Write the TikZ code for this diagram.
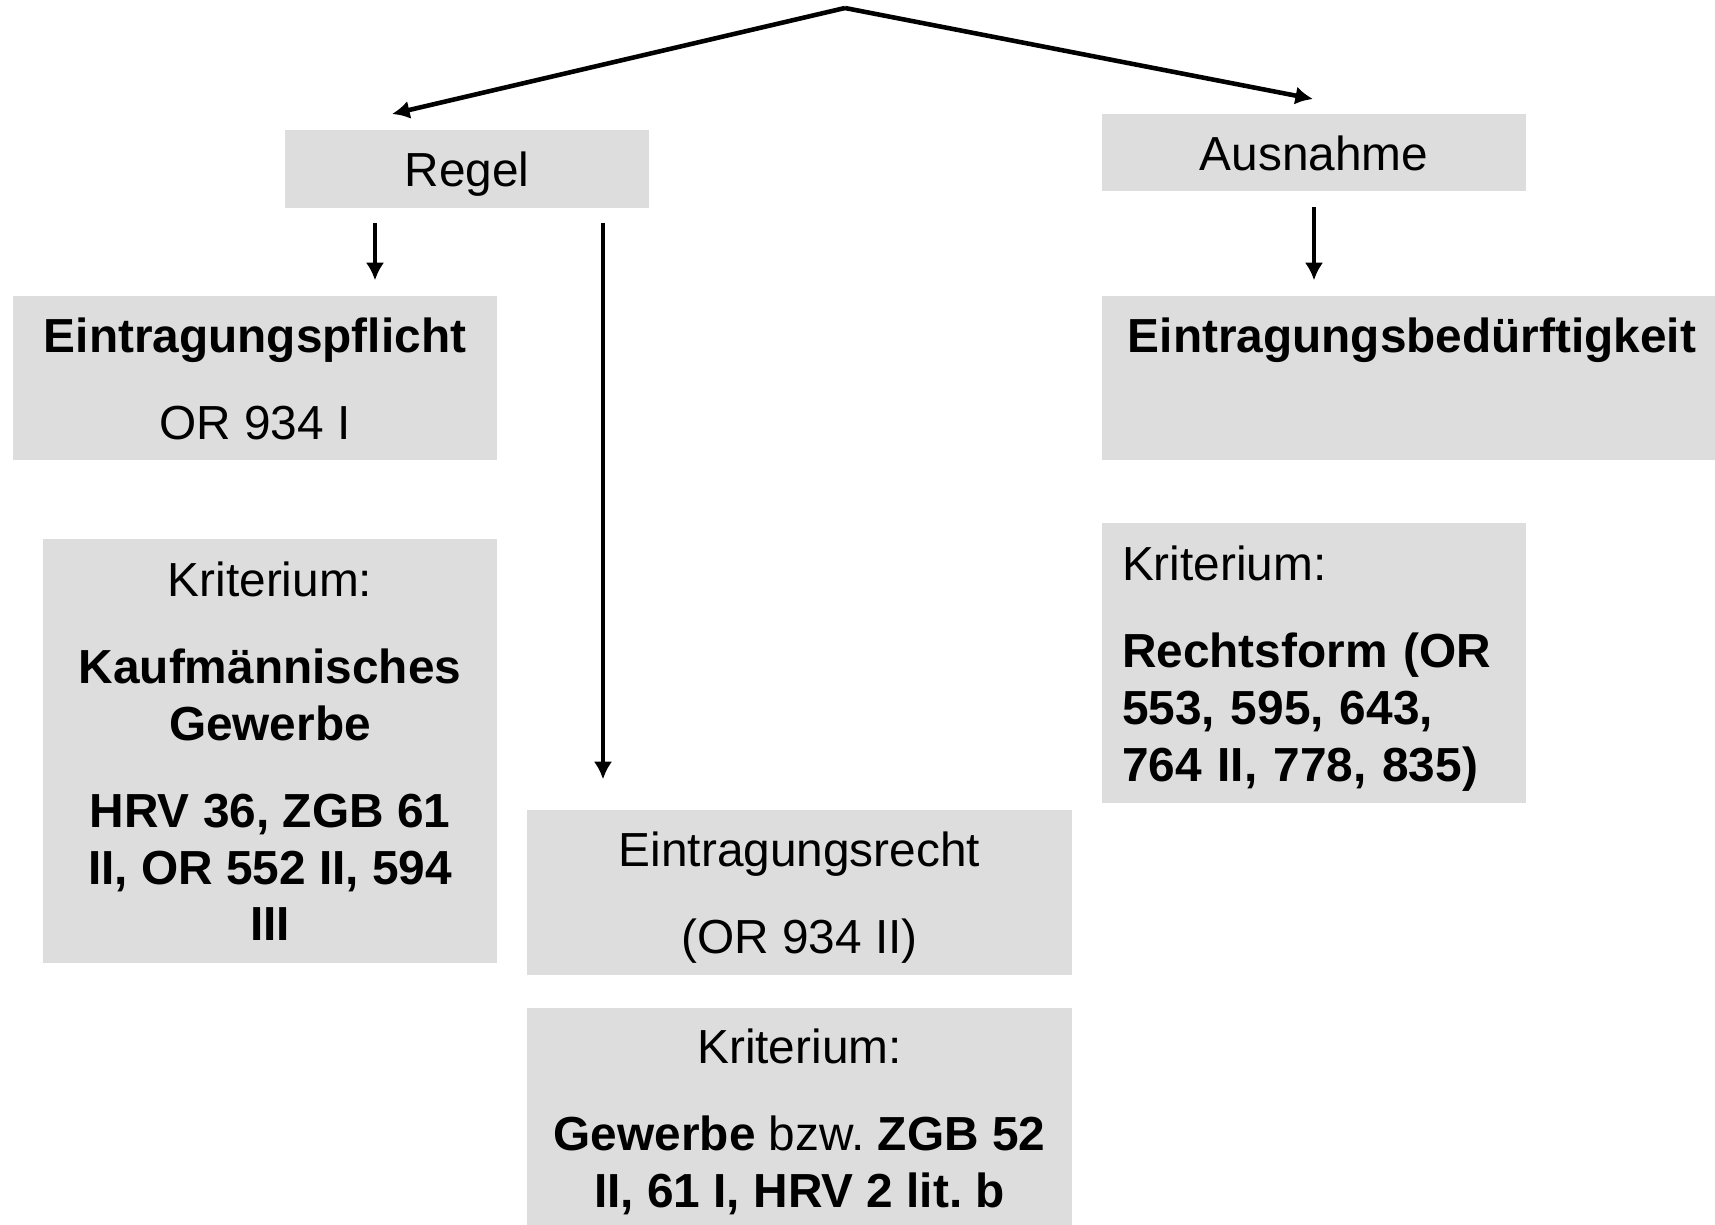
\documentclass[tikz,border=0pt]{standalone}
\usepackage{fontspec}
\setmainfont{Liberation Sans}
\usetikzlibrary{arrows.meta}
\definecolor{boxgray}{RGB}{221,221,221}
\newcommand{\boxstrut}{\rule[-2.9pt]{0pt}{15.9pt}}
\tikzset{
    box/.style={fill=boxgray, inner sep=0pt, align=center, font=\fontsize{13.6}{16.2}\selectfont\frenchspacing,
        execute at end node=\boxstrut},
    arr/.style={-{Latex[length=5pt,width=5.2pt]}, line width=1.3pt}
}

\begin{document}
\begin{tikzpicture}
    \useasboundingbox (0,0) rectangle (17.15,-12.24);

    \node[box, minimum width=3.64cm, minimum height=0.77cm] (regel) at (4.67,-1.69) {\boxstrut Regel};
    \node[box, minimum width=4.24cm, minimum height=0.77cm] (ausnahme) at (13.14,-1.53) {\boxstrut Ausnahme};

    \node[box, minimum width=4.84cm, minimum height=1.64cm] (pflicht) at (2.55,-3.78)
        {\boxstrut\textbf{Eintragungspflicht}\\[8.5pt]OR 934 I};
    \node[box, minimum width=4.54cm, minimum height=4.24cm] (kritpflicht) at (2.70,-7.51)
        {\boxstrut Kriterium:\\[8.5pt]\textbf{Kaufmännisches}\\\textbf{Gewerbe}\\[8.5pt]\textbf{HRV 36, ZGB 61}\\\textbf{II, OR 552 II, 594}\\\textbf{III}};

    \node[box, minimum width=5.45cm, minimum height=1.65cm] (recht) at (7.995,-8.925)
        {\boxstrut Eintragungsrecht\\[8.5pt](OR 934 II)};
    \node[box, minimum width=5.45cm, minimum height=2.20cm] (kritrecht) at (7.995,-11.18)
        {\boxstrut Kriterium:\\[8.5pt]\textbf{Gewerbe} bzw. \textbf{ZGB 52}\\\textbf{II, 61 I, HRV 2 lit. b}};

    \node[box, minimum width=6.20cm, minimum height=1.64cm] (bed) at (14.12,-3.78)
        {\boxstrut\textbf{Eintragungsbedürftigkeit}\\[8.5pt]\phantom{OR 934 I}};
    \node[box, align=left, text width=3.84cm, inner xsep=0.2cm, minimum height=2.80cm] (kritbed) at (13.14,-6.63)
        {\boxstrut Kriterium:\\[8.5pt]\textbf{Rechtsform (OR}\\\textbf{553, 595, 643,}\\\textbf{764 II, 778, 835)}};

    \coordinate (top) at (8.45,-0.08);
    \coordinate (regelin) at (3.92,-1.14);
    \coordinate (ausin) at (13.13,-0.99);

    \draw[arr] (top) -- (regelin);
    \draw[arr] (top) -- (ausin);

    \draw[arr, shorten <=0.15cm, shorten >=0.15cm] ([xshift=-0.92cm]regel.south) -- ([xshift=-0.92cm]regel.south |- pflicht.north);
    \draw[arr, shorten <=0.15cm, shorten >=0.30cm] ([xshift=1.36cm]regel.south) -- ([xshift=1.36cm]regel.south |- recht.north);
    \draw[arr, shorten <=0.15cm, shorten >=0.15cm] (ausnahme.south) -- (ausnahme.south |- bed.north);
\end{tikzpicture}
\end{document}
